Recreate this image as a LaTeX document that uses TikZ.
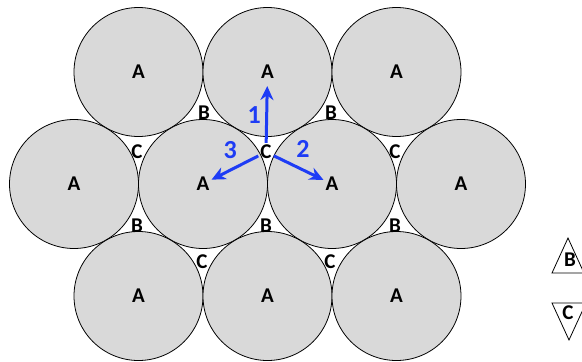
\documentclass[tikz,border=0pt]{standalone}
\usepackage{fontspec}
\setmainfont{Carlito}
\usepackage{xcolor}
\usetikzlibrary{arrows.meta,positioning,calc}
\definecolor{ballgray}{RGB}{217,217,217}
\definecolor{arrowblue}{RGB}{30,60,245}
\tikzset{
  ball/.style={circle,draw=black,line width=0.8pt,fill=ballgray,minimum size=129pt,inner sep=0pt},
  site/.style={font=\fontsize{21}{21}\selectfont\bfseries,inner sep=2pt},
  move/.style={arrowblue,line width=3pt,-{Stealth[length=14pt,width=13pt]}},
  step label/.style={arrowblue,font=\fontsize{26}{26}\selectfont\bfseries},
}

\begin{document}
\begin{tikzpicture}[x=1pt,y=-1pt]
\useasboundingbox (0,0) rectangle (582,362);
% layer of spheres
\foreach \x/\y/\n in {138.5/72/t1,267.5/72/t2,396.5/72/t3,74/184/m1,203/184/m2,332/184/m3,461/184/m4,138.5/296/u1,267.5/296/u2,396.5/296/u3}{
  \node[ball] (\n) at (\x,\y) {};
  \node[site] (a\n) at (\x,\y) {A};
}
% hollows between the spheres
\foreach \x/\y/\n in {204/113/b1,331/113/b2,137/226/b3,266/226/b4,395/226/b5}{
  \node[site] (\n) at (\x,\y) {B};
}
\foreach \x/\y/\n in {137/152/c1,266/152/c2,395/152/c3,202/262/c4,330/262/c5}{
  \node[site] (\n) at (\x,\y) {C};
}
% the three directions
\draw[move,shorten >=5pt] (c2) -- (at2) node[step label,pos=0.45,left=1pt] {1};
\draw[move] (c2) -- (am3) node[step label,pos=0.4,above right=3pt and -2pt] {2};
\draw[move] (c2) -- (am2) node[step label,pos=0.4,above left=2pt and -2pt] {3};
% legend
\draw[line width=0.8pt] (552,273) -- (568,238) -- (584,273) -- cycle;
\node[site] (keyb) at (570,260) {B};
\draw[line width=0.8pt] (552,303) -- (586,303) -- (569,340) -- cycle;
\node[site] (keyc) at (568,313) {C};
\end{tikzpicture}
\end{document}
